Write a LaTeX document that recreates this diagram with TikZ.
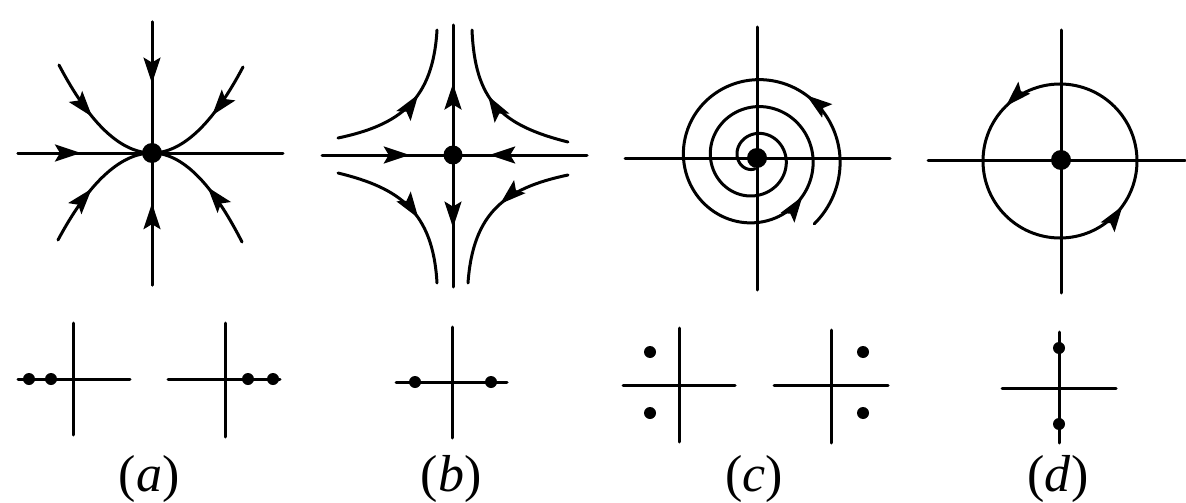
\documentclass[tikz,border=0pt]{standalone}
\usepackage{fontspec}
\setmainfont{Liberation Serif}
\usetikzlibrary{arrows.meta,decorations.markings}
\tikzset{
  ln/.style={line width=3pt, line cap=round},
  arr/.style={postaction={decorate,decoration={markings,
      mark=at position #1 with {\arrow{Stealth[length=26pt,width=17pt,inset=5pt]}}}}},
  bigdot/.style={fill=black},
  lbl/.style={anchor=base, inner sep=0pt, font=\fontsize{52}{56}\selectfont},
}
% filled stealth-shaped head: tip at (#1,#2), pointing at screen angle #3
\newcommand{\myarrowhead}[3]{\fill[shift={(#1,#2)}, rotate=#3]
  (0pt,0pt) -- (-26pt,8.5pt) -- (-21pt,0pt) -- (-26pt,-8.5pt) -- cycle;}
\begin{document}
\begin{tikzpicture}[x=1pt,y=-1pt]
\useasboundingbox (0,0) rectangle (1186,503);
\fill[white] (0,0) rectangle (1186,503);

% ---------------- panel (a): stable node
\coordinate (Oa) at (152,153);
\draw[ln] (18,153) -- (283,153);
\draw[ln] (152,22) -- (152,285);
\draw[ln,arr=0.47] (18,153) -- (Oa);
\draw[ln,arr=0.47] (152,22) -- (Oa);
\draw[ln,arr=0.62] (152,285) -- (Oa);
\draw[ln,arr=0.46] (59,65) .. controls (90,124) and (121,153) .. (Oa);
\draw[ln,arr=0.44] (243,67) .. controls (213,124) and (182,153) .. (Oa);
\draw[ln,arr=0.46] (58,240) .. controls (89,182) and (121,153) .. (Oa);
\draw[ln,arr=0.49] (242,242) .. controls (212,183) and (182,153) .. (Oa);
\fill[bigdot] (Oa) circle[radius=10pt];

% ---------------- panel (b): saddle
\coordinate (Ob) at (453,155);
\draw[ln,arr=0.67] (322,155) -- (Ob);
\draw[ln,arr=0.73] (587,155) -- (Ob);
\draw[ln,arr=0.55] (Ob) -- (453,25);
\draw[ln,arr=0.55] (Ob) -- (453,287);
\draw[ln,arr=0.58] (338,138) .. controls (400,125) and (433,100) .. (437,30);
\draw[ln,arr=0.58] (568,142) .. controls (500,125) and (475,100) .. (472,30);
\draw[ln,arr=0.58] (338,173) .. controls (400,188) and (433,212) .. (437,283);
\draw[ln,arr=0.46] (568,175) .. controls (506,188) and (473,212) .. (468,283);
\fill[bigdot] (Ob) circle[radius=9.5pt];

% ---------------- panel (c): spiral
\coordinate (Oc) at (757,158);
\draw[ln] (625,158) -- (890,158);
\draw[ln] (757,27) -- (757,290);
\draw[ln] plot[domain=-48:990, samples=300, smooth]
  ({755+(85-0.075*\x)*cos(\x)}, {158-(85-0.075*\x)*sin(\x)});
\myarrowhead{806.5}{95.3}{143}
\myarrowhead{802.4}{196.5}{55}
\fill[bigdot] (Oc) circle[radius=10pt];

% ---------------- panel (d): centre
\coordinate (Od) at (1061,160);
\coordinate (Cd) at (1060,161);
\draw[ln] (928,160) -- (1185,160);
\draw[ln] (1061,30) -- (1061,293);
\draw[ln] (Cd) circle[radius=77pt];
\myarrowhead{1006}{106}{225}
\myarrowhead{1122.5}{206}{55}
\fill[bigdot] (Od) circle[radius=10pt];

% ---------------- bottom row
% (a) left
\draw[ln] (18,379) -- (130,379);
\draw[ln] (73,323) -- (73,435);
\fill (29,379) circle[radius=6pt];
\fill (51,379) circle[radius=6pt];
% (a) right
\draw[ln] (168,379) -- (280,379);
\draw[ln] (225,323) -- (225,437);
\fill (248,379) circle[radius=6pt];
\fill (273,379) circle[radius=6pt];
% (b)
\draw[ln] (396,382) -- (507,382);
\draw[ln] (452,327) -- (452,438);
\fill (415,382) circle[radius=6pt];
\fill (491,382) circle[radius=6pt];
% (c) left
\draw[ln] (623,385) -- (735,385);
\draw[ln] (679,328) -- (679,442);
\fill (650,352) circle[radius=6pt];
\fill (650,413) circle[radius=6pt];
% (c) right
\draw[ln] (774,385) -- (888,385);
\draw[ln] (831,330) -- (831,443);
\fill (863,352) circle[radius=6pt];
\fill (863,413) circle[radius=6pt];
% (d)
\draw[ln] (1002,388) -- (1116,388);
\draw[ln] (1059,332) -- (1059,443);
\fill (1059,348) circle[radius=6pt];
\fill (1059,424) circle[radius=6pt];

% labels
\node[lbl] (la) at (149,491) {(\textit{a})};
\node[lbl] (lb) at (451,491) {(\textit{b})};
\node[lbl] (lc) at (754,491) {(\textit{c})};
\node[lbl] (ld) at (1058,491) {(\textit{d})};
\end{tikzpicture}
\end{document}
